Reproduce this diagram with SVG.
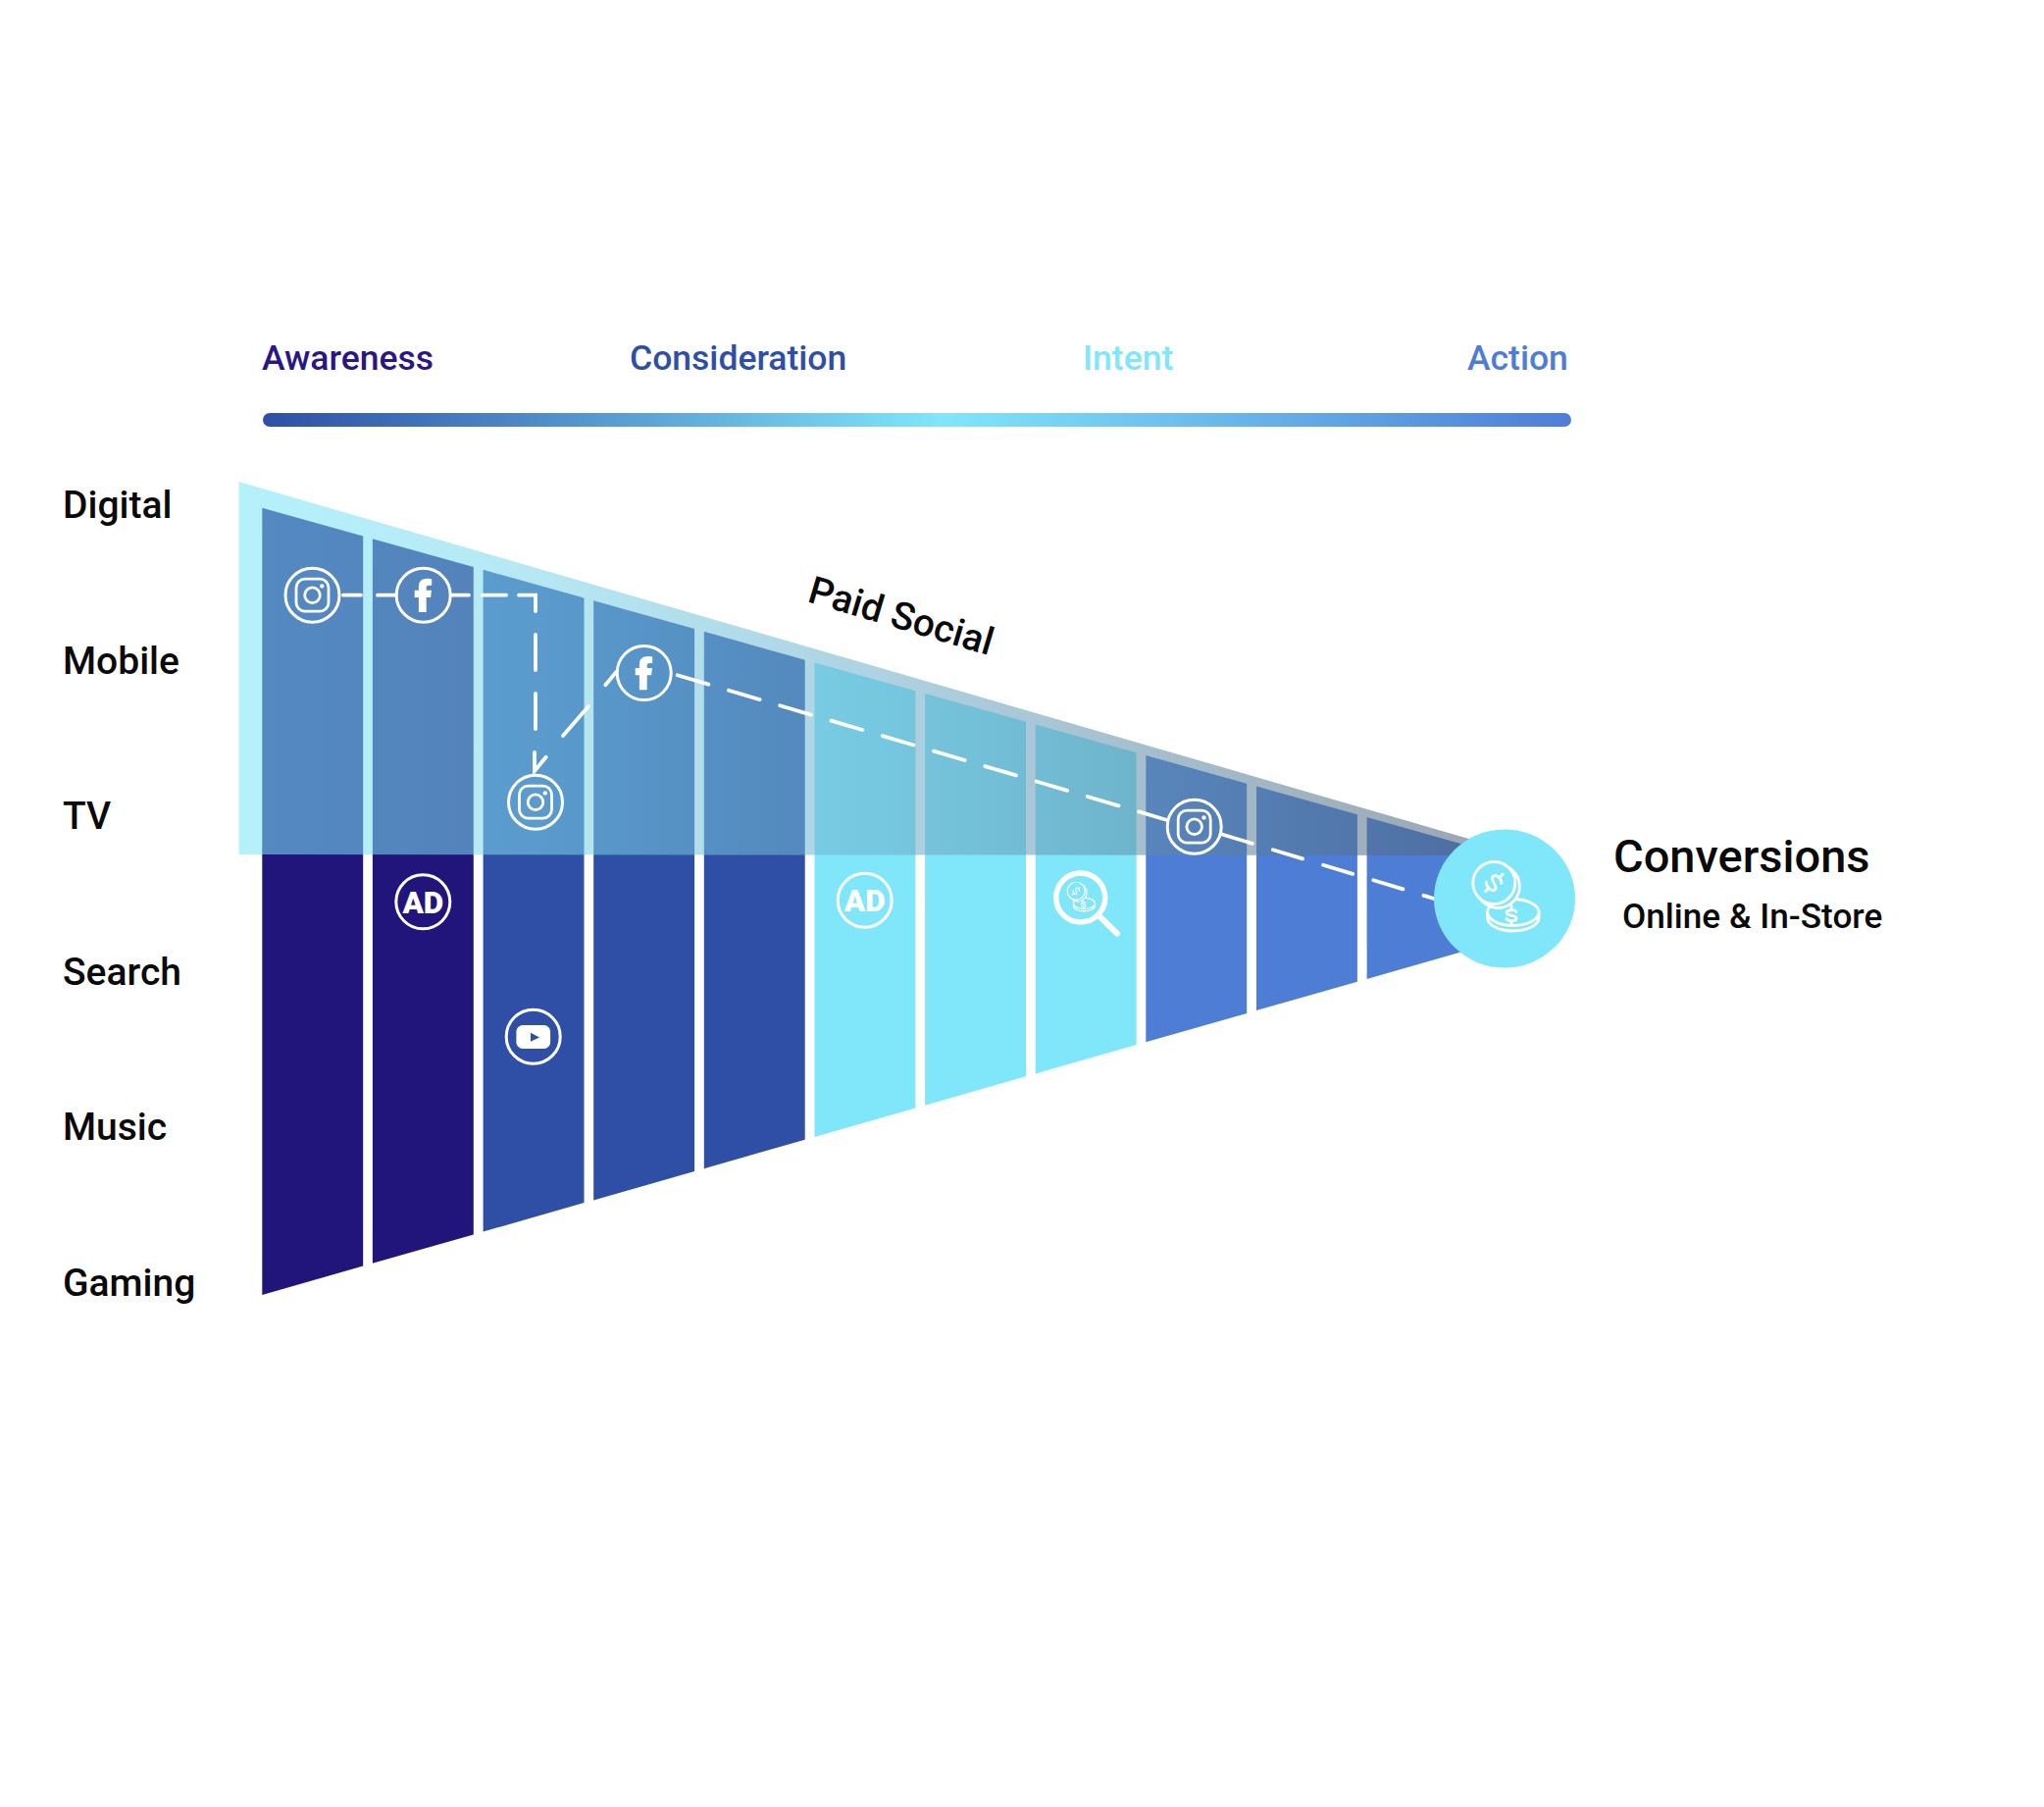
<svg xmlns="http://www.w3.org/2000/svg" xmlns:xlink="http://www.w3.org/1999/xlink" width="2084" height="1842" viewBox="0 0 2084 1842">
<style>
text{font-family:Roboto,"Liberation Sans",sans-serif;font-weight:500}
.lb{font-size:39px;fill:#0a0a0a}
.st{font-size:35.500px}
.ring{fill:none;stroke:#fff;stroke-width:3}
.ic{fill:none;stroke:#fff;stroke-width:2.800;stroke-linecap:round;stroke-linejoin:round}
.cf{fill:#80e6fa;stroke:#fff;stroke-width:2.800;stroke-linecap:round;stroke-linejoin:round}
.fw{fill:#fff}
.dash{fill:none;stroke:#fff;stroke-width:3.800;stroke-linecap:round;stroke-linejoin:miter}
.ad{font-size:31.500px;font-weight:900;fill:#fff;text-anchor:middle}
.navy{fill:#21157c}.blue{fill:#2e4fa5}.cyan{fill:#80e6fa}.mid{fill:#4e7dd6}
</style>
<defs>
<linearGradient id="bar" x1="0" x2="1" y1="0" y2="0"><stop offset="0" stop-color="#2e4fa5"/><stop offset=".52" stop-color="#80e6fa"/><stop offset="1" stop-color="#4e7dd6"/></linearGradient>
<linearGradient id="ov" gradientUnits="userSpaceOnUse" x1="243" x2="1556" y1="0" y2="0"><stop offset="0" stop-color="#7be6f8"/><stop offset=".23" stop-color="#7dd6eb"/><stop offset=".49" stop-color="#6eb0cc"/><stop offset="1" stop-color="#4b5b72"/></linearGradient>
<g id="ig"><circle class="ring" r="27.500"/><rect class="ic" x="-16.500" y="-16.500" width="33" height="33" rx="9"/><circle class="ic" r="7.800"/><circle class="fw" cx="9.800" cy="-9.300" r="2.200"/></g>
<g id="fb"><circle class="ring" r="27.500"/><path class="fw" d="M-4.800 17.300V2.200H-9V-5H-4.800V-9C-4.800-14-1.500-16.900 3.800-16.900 6-16.900 7.500-16.700 8.500-16.500V-10H5.500C3.300-10 3-9 3-7.500V-5H8.300L7.400 2.200H3V17.300Z"/></g>
<g id="coins">
<path class="ic" d="M-17.400 14V19.500A26.200 13.500 0 0 0 35 19.500V14"/>
<ellipse class="cf" cx="8.800" cy="14" rx="26.200" ry="13.500"/>
<path class="ic" d="M12 13.500C11 11 2 11 2 14.500 2 18 12 16 12 20 12 23.500 3 23.500 2 20.500M7 7.500V11M7 23V26.500"/>
<circle class="cf" cx="-6.700" cy="-12.500" r="22"/>
<circle class="cf" cx="-10.700" cy="-16" r="21.500"/>
<path class="ic" transform="translate(-10.700 -16) rotate(45)" d="M5.500-5C3.500-8.500-5.500-8.500-5.500-3.500-5.500 1 5.500-1 5.500 4 5.500 8.500-3.500 8.500-6 5M0-12.500V-8M0 8V12.500"/>
</g>
</defs>

<g id="stages">
<text x="267" y="376.500" class="st" style="fill:#2a1785">Awareness</text>
<text x="642" y="376.500" class="st" style="fill:#2e4fa5">Consideration</text>
<text x="1104" y="376.500" class="st" style="fill:#80e6fa">Intent</text>
<text x="1496" y="376.500" class="st" style="fill:#4e7dd6">Action</text>
<rect x="268" y="421" width="1334" height="14" rx="7" fill="url(#bar)"/>
</g>

<g id="channels">
<text x="64" y="528.300" class="lb">Digital</text>
<text x="64" y="686.500" class="lb">Mobile</text>
<text x="64" y="845" class="lb">TV</text>
<text x="64" y="1004" class="lb">Search</text>
<text x="64" y="1162" class="lb">Music</text>
<text x="64" y="1321" class="lb">Gaming</text>
</g>

<g id="columns">
<polygon class="navy" points="267.300,517.700 370.200,546.500 370.200,1290.600 267.300,1320"/>
<polygon class="navy" points="379.900,549.200 482.800,578 482.800,1258.400 379.900,1287.800"/>
<polygon class="blue" points="492.600,580.800 595.500,609.600 595.500,1226.100 492.600,1255.600"/>
<polygon class="blue" points="605.200,612.300 708.100,641.100 708.100,1193.900 605.200,1223.400"/>
<polygon class="blue" points="717.800,643.800 820.700,672.700 820.700,1161.800 717.800,1191.200"/>
<polygon class="cyan" points="830.500,675.400 933.400,704.200 933.400,1129.500 830.500,1158.900"/>
<polygon class="cyan" points="943.100,706.900 1046,735.700 1046,1097.300 943.100,1126.700"/>
<polygon class="cyan" points="1055.700,738.500 1158.600,767.300 1158.600,1065.100 1055.700,1094.500"/>
<polygon class="mid" points="1168.300,770 1271.200,798.800 1271.200,1032.900 1168.300,1062.300"/>
<polygon class="mid" points="1281,801.500 1383.900,830.300 1383.900,1000.700 1281,1030.100"/>
<polygon class="mid" points="1393.600,833.100 1500,862.900 1500,967.400 1393.600,997.900"/>
</g>

<polygon id="digital-band" points="243.500,491 1556,872 243.500,871" fill="url(#ov)" opacity=".56"/>

<g id="connectors">
<path class="dash" d="M350 606.700H368M385 606.700H403M460 606.700H478M492 606.700H516M529 606.700H546V623M546 647V683M546 707V743"/>
<path class="dash" d="M545 767V786L556.700 771.700"/>
<path class="dash" d="M574 750 600 720M617.300 698.300 628.300 685"/>
<path class="dash" stroke-dasharray="33 21.500" d="M690.700 688.300 1190 836"/>
<path class="dash" stroke-dasharray="31.500 22" d="M1246.700 850.700 1462 916"/>
</g>

<g id="node-ig-1"><use xlink:href="#ig" href="#ig" x="318.500" y="606.700"/></g>
<g id="node-fb-1"><use xlink:href="#fb" href="#fb" x="431.700" y="606.700"/></g>
<g id="node-ig-2"><use xlink:href="#ig" href="#ig" x="546" y="817.700"/></g>
<g id="node-fb-2"><use xlink:href="#fb" href="#fb" x="656.700" y="686"/></g>
<g id="node-ig-3"><use xlink:href="#ig" href="#ig" x="1217.700" y="842.700"/></g>
<g id="node-ad-1"><circle class="ring" cx="431.300" cy="919.300" r="27.500"/><text class="ad" x="431.300" y="930.500">AD</text></g>
<g id="node-yt"><circle class="ring" cx="543.700" cy="1056.700" r="27.500"/><rect class="fw" x="526.400" y="1045" width="34.700" height="24" rx="6.500"/><polygon class="blue" points="541,1052.700 541,1061.700 550,1057.400"/></g>
<g id="node-ad-2"><circle class="ring" cx="881.700" cy="917.700" r="27.500"/><text class="ad" x="881.700" y="929">AD</text></g>
<g id="node-search"><circle cx="1101.700" cy="915" r="25" fill="none" stroke="#fff" stroke-width="5.500"/><path d="M1122 935 1139 951.700" stroke="#fff" stroke-width="6" stroke-linecap="round"/><use xlink:href="#coins" href="#coins" transform="translate(1101.700 915) scale(.42)"/></g>
<g id="node-conversions"><ellipse cx="1534" cy="916" rx="72" ry="70.500" class="cyan"/><use xlink:href="#coins" href="#coins" x="1534" y="916"/></g>

<g id="labels">
<text x="1645" y="889" style="font-size:47px;fill:#0a0a0a">Conversions</text>
<text x="1654" y="946" style="font-size:35.200px;fill:#0a0a0a">Online &amp; In-Store</text>
<text transform="translate(822 613) rotate(16.500)" style="font-size:39px;fill:#0a0a0a">Paid Social</text>
</g>
</svg>
